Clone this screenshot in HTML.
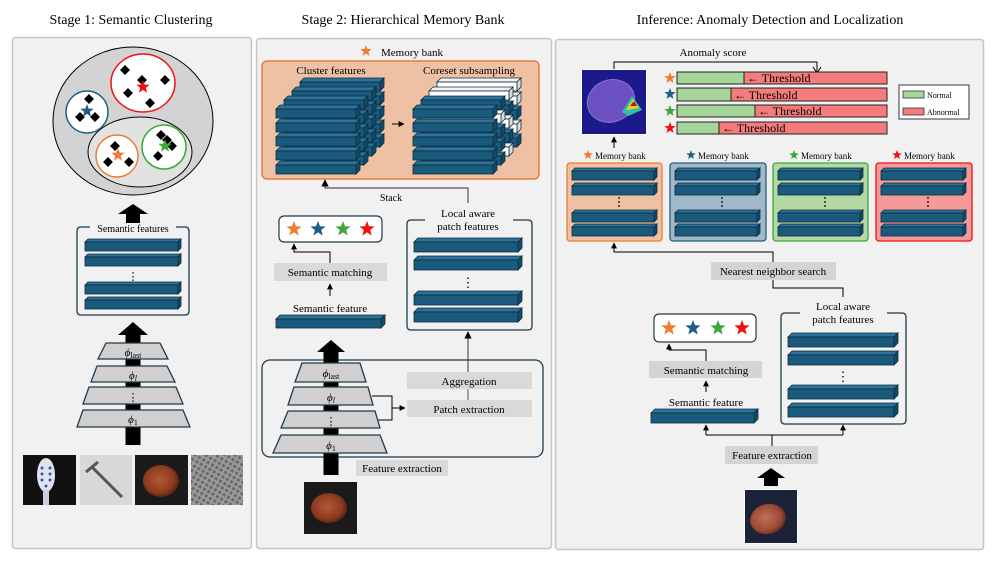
<!DOCTYPE html>
<html><head><meta charset="utf-8"><style>
html,body{margin:0;padding:0;background:#fff;}
svg{display:block;font-family:"Liberation Serif",serif;}
</style></head><body>
<svg id="s" width="996" height="561" viewBox="0 0 996 561" xmlns="http://www.w3.org/2000/svg">
<defs>
<radialGradient id="nut" cx="0.45" cy="0.45" r="0.6"><stop offset="0" stop-color="#b45a35"/><stop offset="0.7" stop-color="#8a3a1f"/><stop offset="1" stop-color="#4a1d10"/></radialGradient>
<radialGradient id="nut2" cx="0.45" cy="0.45" r="0.6"><stop offset="0" stop-color="#c0705a"/><stop offset="0.7" stop-color="#9a4a35"/><stop offset="1" stop-color="#5a2518"/></radialGradient>
<pattern id="grid" width="5" height="5" patternUnits="userSpaceOnUse" patternTransform="rotate(30)"><rect width="5" height="5" fill="#9a9a9a"/><rect width="3" height="3" fill="#6a6a6a"/></pattern>
<marker id="ar" viewBox="0 0 10 10" refX="9" refY="5" markerWidth="6" markerHeight="6" orient="auto"><path d="M0,0L10,5L0,10z" fill="#000"/></marker>
</defs>
<g font-size="14" text-anchor="middle" fill="#000">
<text x="131" y="24">Stage 1: Semantic Clustering</text>
<text x="403" y="24">Stage 2: Hierarchical Memory Bank</text>
<text x="770" y="24">Inference: Anomaly Detection and Localization</text>
</g>
<rect x="12.5" y="37.5" width="239" height="511" rx="3" fill="#f1f1f1" stroke="#c4c4c4" stroke-width="1.5"/>
<rect x="256.5" y="38.5" width="295" height="510" rx="3" fill="#f1f1f1" stroke="#c4c4c4" stroke-width="1.5"/>
<rect x="555.5" y="39.5" width="428" height="510" rx="3" fill="#f1f1f1" stroke="#c4c4c4" stroke-width="1.5"/>

<ellipse cx="133" cy="121" rx="80" ry="74" fill="#d3d3d3" stroke="#000" stroke-width="1"/>
<ellipse cx="140" cy="152" rx="52" ry="35" fill="#e2e2e2" stroke="#000" stroke-width="1"/>
<circle cx="87" cy="112" r="21" fill="#fff" stroke="#1f5f85" stroke-width="1.5"/>
<ellipse cx="143" cy="83" rx="32" ry="29" fill="#fff" stroke="#f01010" stroke-width="1.5"/>
<circle cx="117" cy="156" r="21" fill="#fff" stroke="#ed7d31" stroke-width="1.5"/>
<circle cx="164" cy="147" r="22" fill="#fff" stroke="#3aa83a" stroke-width="1.5"/>
<g id="p1"></g>

<path d="M90,227 H81 Q77,227 77,231 V311 Q77,315 81,315 H185 Q189,315 189,311 V231 Q189,227 185,227 H176" fill="none" stroke="#1f3a4a" stroke-width="1.3"/>
<text x="133" y="232" font-size="10" text-anchor="middle">Semantic features</text>
<text x="133" y="280" font-size="11" text-anchor="middle">⋮</text>

<text x="412" y="56" font-size="11" text-anchor="middle">Memory bank</text>
<rect x="262" y="61" width="277" height="118" rx="5" fill="#efc1a4" stroke="#e87d3e" stroke-width="1.5"/>
<text x="331" y="74" font-size="11" text-anchor="middle">Cluster features</text>
<text x="469" y="74" font-size="11" text-anchor="middle">Coreset subsampling</text>
<line x1="392" y1="124" x2="404" y2="124" stroke="#000" stroke-width="1" marker-end="url(#ar)"/>
<path d="M468,203 V188 H325 V180" fill="none" stroke="#555" stroke-width="1.2" marker-end="url(#ar)"/>
<text x="391" y="201" font-size="10" text-anchor="middle">Stack</text>
<rect x="279" y="216" width="103" height="26" rx="5" fill="#fff" stroke="#1f3a4a" stroke-width="1.2"/>
<path d="M330,263 V252 H294 V244" fill="none" stroke="#000" stroke-width="1" marker-end="url(#ar)"/>
<rect x="274" y="263" width="113" height="18" fill="#d9d9d9"/>
<text x="330" y="276" font-size="11" text-anchor="middle">Semantic matching</text>
<line x1="330" y1="296" x2="330" y2="284" stroke="#000" stroke-width="1" marker-end="url(#ar)"/>
<text x="330" y="312" font-size="11" text-anchor="middle">Semantic feature</text>
<path d="M425,220 H411 Q407,220 407,224 V326 Q407,330 411,330 H528 Q532,330 532,326 V224 Q532,220 528,220 H513" fill="none" stroke="#1f3a4a" stroke-width="1.3"/>
<text x="468" y="217" font-size="11" text-anchor="middle">Local aware</text>
<text x="468" y="230" font-size="11" text-anchor="middle">patch features</text>
<text x="468" y="287" font-size="13" text-anchor="middle">⋮</text>
<line x1="468" y1="372" x2="468" y2="332" stroke="#555" stroke-width="1.2" marker-end="url(#ar)"/>
<rect x="262" y="360" width="281" height="97" rx="8" fill="none" stroke="#1f3a4a" stroke-width="1.3"/>
<rect x="407" y="372" width="125" height="17" fill="#d9d9d9"/>
<text x="469" y="385" font-size="11" text-anchor="middle">Aggregation</text>
<line x1="468" y1="389" x2="468" y2="400" stroke="#555" stroke-width="1"/>
<rect x="407" y="400" width="125" height="17" fill="#d9d9d9"/>
<text x="469" y="413" font-size="11" text-anchor="middle">Patch extraction</text>
<path d="M372,396 H392 V420 H376 M392,408 H405" fill="none" stroke="#000" stroke-width="1" marker-end="url(#ar)"/>
<rect x="356" y="460" width="92" height="16" fill="#d9d9d9"/>
<text x="402" y="472" font-size="11" text-anchor="middle">Feature extraction</text>

<text x="713" y="56" font-size="11" text-anchor="middle">Anomaly score</text>
<path d="M614,70 V62 H817 V72" fill="none" stroke="#000" stroke-width="1"/>
<path d="M813,67 L817,73 L821,67" fill="none" stroke="#000" stroke-width="1"/>
<rect x="581" y="69" width="66" height="66" fill="#fff"/>
<rect x="582" y="70" width="64" height="64" fill="#1c1a8a"/>
<ellipse cx="611" cy="101" rx="24" ry="21" fill="#6a50c0" transform="rotate(-20 611 101)"/>
<ellipse cx="611" cy="101" rx="24" ry="21" fill="none" stroke="#8a70d8" stroke-width="1" transform="rotate(-20 611 101)"/>
<polygon points="622,112 632,96 642,110 628,116" fill="#30c0a0"/>
<polygon points="626,110 633,99 639,108" fill="#f0d020"/>
<polygon points="630,106 634,101 637,106" fill="#c01010"/>
<line x1="614" y1="148" x2="614" y2="137" stroke="#000" stroke-width="1" marker-end="url(#ar)"/>
<g font-size="12">
<rect x="677" y="72" width="210" height="12" fill="#f47c7c" stroke="#222" stroke-width="1"/><rect x="677" y="72" width="67" height="12" fill="#a6d69a" stroke="#222" stroke-width="1"/><text x="747" y="82">← Threshold</text>
<rect x="677" y="88" width="210" height="13" fill="#f47c7c" stroke="#222" stroke-width="1"/><rect x="677" y="88" width="54" height="13" fill="#a6d69a" stroke="#222" stroke-width="1"/><text x="734" y="99">← Threshold</text>
<rect x="677" y="105" width="210" height="12" fill="#f47c7c" stroke="#222" stroke-width="1"/><rect x="677" y="105" width="78" height="12" fill="#a6d69a" stroke="#222" stroke-width="1"/><text x="758" y="115">← Threshold</text>
<rect x="677" y="122" width="210" height="12" fill="#f47c7c" stroke="#222" stroke-width="1"/><rect x="677" y="122" width="42" height="12" fill="#a6d69a" stroke="#222" stroke-width="1"/><text x="722" y="132">← Threshold</text>
</g>
<rect x="899" y="85" width="70" height="34" fill="#fff" stroke="#2a3a48" stroke-width="1"/>
<rect x="903" y="91" width="21" height="7" fill="#a6d69a" stroke="#333" stroke-width="0.8"/>
<rect x="903" y="108" width="21" height="7" fill="#f47c7c" stroke="#333" stroke-width="0.8"/>
<text x="927" y="98" font-size="8">Normal</text>
<text x="927" y="115" font-size="8">Abnormal</text>
<g font-size="9">
<text x="595" y="159">Memory bank</text>
<text x="698" y="159">Memory bank</text>
<text x="801" y="159">Memory bank</text>
<text x="904" y="159">Memory bank</text>
</g>
<rect x="567" y="163" width="95" height="78" rx="3" fill="#efc1a4" stroke="#ed7d31" stroke-width="1.3"/>
<rect x="670" y="163" width="96" height="78" rx="3" fill="#9fb9c9" stroke="#1f5f85" stroke-width="1.3"/>
<rect x="773" y="163" width="95" height="78" rx="3" fill="#b5d9a5" stroke="#3aa83a" stroke-width="1.3"/>
<rect x="876" y="163" width="96" height="78" rx="3" fill="#f49a9a" stroke="#f01010" stroke-width="1.3"/>
<path d="M773,262 V252 H614 V243" fill="none" stroke="#000" stroke-width="1" marker-end="url(#ar)"/>
<rect x="711" y="262" width="125" height="18" fill="#d4d4d4"/>
<text x="773" y="275" font-size="11" text-anchor="middle">Nearest neighbor search</text>
<path d="M773,280 V288 H843 V297" fill="none" stroke="#000" stroke-width="1"/>
<path d="M800,313 H785 Q781,313 781,317 V420 Q781,424 785,424 H902 Q906,424 906,420 V317 Q906,313 902,313 H887" fill="none" stroke="#1f3a4a" stroke-width="1.3"/>
<text x="843" y="310" font-size="11" text-anchor="middle">Local aware</text>
<text x="843" y="323" font-size="11" text-anchor="middle">patch features</text>
<text x="843" y="381" font-size="13" text-anchor="middle">⋮</text>
<rect x="654" y="314" width="102" height="28" rx="5" fill="#fff" stroke="#1f3a4a" stroke-width="1.2"/>
<path d="M706,361 V350 H669 V344" fill="none" stroke="#000" stroke-width="1" marker-end="url(#ar)"/>
<rect x="649" y="361" width="113" height="17" fill="#d4d4d4"/>
<text x="706" y="374" font-size="11" text-anchor="middle">Semantic matching</text>
<line x1="706" y1="392" x2="706" y2="381" stroke="#000" stroke-width="1" marker-end="url(#ar)"/>
<text x="706" y="406" font-size="11" text-anchor="middle">Semantic feature</text>
<path d="M772,446 V435 M706,435 H843" fill="none" stroke="#000" stroke-width="1"/>
<line x1="706" y1="435" x2="706" y2="425" stroke="#000" stroke-width="1" marker-end="url(#ar)"/>
<line x1="843" y1="435" x2="843" y2="425" stroke="#000" stroke-width="1" marker-end="url(#ar)"/>
<rect x="725" y="446" width="93" height="18" fill="#d4d4d4"/>
<text x="772" y="459" font-size="11" text-anchor="middle">Feature extraction</text>
<polygon points="757,478 771,468 785,478 778,478 778,486 764,486 764,478" fill="#000"/>
<rect x="744" y="489" width="54" height="55" fill="#fff"/>
<rect x="745" y="490" width="52" height="53" fill="#1c2238"/>
<ellipse cx="768" cy="519" rx="18" ry="15" fill="url(#nut2)" transform="rotate(-15 768 519)"/>

<rect x="23" y="455" width="53" height="50" fill="#111"/>
<ellipse cx="46" cy="475" rx="9" ry="17" fill="#dde4ee"/>
<rect x="43" y="490" width="6" height="15" fill="#ccd"/>
<g fill="#3a55a0"><circle cx="42" cy="468" r="1.5"/><circle cx="50" cy="468" r="1.5"/><circle cx="42" cy="474" r="1.5"/><circle cx="50" cy="474" r="1.5"/><circle cx="42" cy="480" r="1.5"/><circle cx="50" cy="480" r="1.5"/><circle cx="46" cy="486" r="1.5"/></g>
<rect x="80" y="455" width="52" height="50" fill="#d8d8d8"/>
<line x1="92" y1="467" x2="122" y2="497" stroke="#555" stroke-width="3"/>
<line x1="86" y1="472" x2="98" y2="462" stroke="#555" stroke-width="3"/>
<rect x="135" y="455" width="53" height="50" fill="#1a1a1a"/>
<ellipse cx="161" cy="481" rx="18" ry="16" fill="url(#nut)"/>
<rect x="191" y="455" width="52" height="50" fill="url(#grid)"/>
<rect x="304" y="482" width="53" height="52" fill="#1a1a1a"/>
<ellipse cx="329" cy="508" rx="18" ry="15" fill="url(#nut)"/>

<g id="dyn"></g>
<g font-size="11" text-anchor="middle" font-style="italic">
<text x="133" y="356">ϕ<tspan font-size="8" font-style="normal" dy="2">last</tspan></text>
<text x="133" y="379">ϕ<tspan font-size="8" dy="2">l</tspan></text>
<text x="133" y="401" font-style="normal">⋮</text>
<text x="133" y="423">ϕ<tspan font-size="8" font-style="normal" dy="2">1</tspan></text>
<text x="331" y="377">ϕ<tspan font-size="8" font-style="normal" dy="2">last</tspan></text>
<text x="331" y="401">ϕ<tspan font-size="8" dy="2">l</tspan></text>
<text x="331" y="425" font-style="normal">⋮</text>
<text x="331" y="449">ϕ<tspan font-size="8" font-style="normal" dy="2">1</tspan></text>
</g>
</svg>
<script>
(function(){
var NS="http://www.w3.org/2000/svg";
var dyn=document.getElementById("dyn"), p1=document.getElementById("p1");
function el(par,t,a){var e=document.createElementNS(NS,t);for(var k in a)e.setAttribute(k,a[k]);par.appendChild(e);return e;}
function bar(par,x,y,w,h,d,white){
 var f=white?"#ffffff":"#1a5a7d", tp=white?"#f4f4f4":"#2c7399", sd=white?"#dddddd":"#134a68";
 var s="#0d2c3e";
 el(par,"polygon",{points:[x,y+d,x+d,y,x+w+d,y,x+w,y+d].join(" "),fill:tp,stroke:s,"stroke-width":0.8});
 el(par,"polygon",{points:[x+w,y+d,x+w+d,y,x+w+d,y+h,x+w,y+h+d].join(" "),fill:sd,stroke:s,"stroke-width":0.8});
 el(par,"rect",{x:x,y:y+d,width:w,height:h,fill:f,stroke:s,"stroke-width":0.8});
}
function star(par,cx,cy,r,c){
 var p=[];for(var i=0;i<10;i++){var a=-Math.PI/2+i*Math.PI/5,rr=i%2?r*0.42:r;p.push((cx+rr*Math.cos(a)).toFixed(1)+","+(cy+rr*Math.sin(a)).toFixed(1));}
 el(par,"polygon",{points:p.join(" "),fill:c});
}
function dia(par,x,y){el(par,"rect",{x:x-3.5,y:y-3.5,width:7,height:7,fill:"#000",transform:"rotate(45 "+x+" "+y+")"});}
function trap(par,y1,y2,t1,t2,b1,b2){el(par,"polygon",{points:[t1,y1,t2,y1,b2,y2,b1,y2].join(" "),fill:"#d0d0d0",stroke:"#1f3a4a","stroke-width":1.3});}
function bigArrow(par,cx,hy,hb,end,hw,sw){el(par,"polygon",{points:[cx-hw,hb,cx,hy,cx+hw,hb,cx+sw,hb,cx+sw,end,cx-sw,end,cx-sw,hb].join(" "),fill:"#000"});}
var O="#ed7d31",B="#1f5f85",G="#3aa83a",R="#f01010";
[[89,99],[80,117],[95,117],[125,70],[165,80],[128,93],[150,103],[142,80],[115,146],[108,162],[129,162],[161,135],[172,146],[158,156],[167,140]].forEach(function(p){dia(p1,p[0],p[1]);});
star(p1,87,111,7,B);star(p1,143,87,7,R);star(p1,118,155,7,O);star(p1,165,146,7,G);
bigArrow(dyn,133,204,214,223,15,7);
bigArrow(dyn,133,322,335,445,15,7.5);
trap(dyn,343,359,106,160,98,168);trap(dyn,366,382,97,167,91,175);trap(dyn,387,404,89,176,83,183);trap(dyn,410,427,83,183,77,190);
[239,254,282,297].forEach(function(y){bar(dyn,85,y,93,9,3,false);});
for(var k=0;k<4;k++)for(var j=0;j<5;j++){bar(dyn,300-8*k,82+9*k+14*j-4,80,9,4,false);}
var wh=[[0,1],[0,3],[1,0],[1,2],[1,4],[2,1],[3,0],[3,2],[3,3],[0,0]];
function isW(k,j){for(var i=0;i<wh.length;i++)if(wh[i][0]==k&&wh[i][1]==j)return true;return false;}
for(var k=0;k<4;k++)for(var j=0;j<5;j++){bar(dyn,437-8*k,82+9*k+14*j-4,80,9,4,(k<3)&&isW(k,j));}
star(dyn,366,51,6,O);
[294,318,343,367].forEach(function(x,i){star(dyn,x,229,8,[O,B,G,R][i]);});
bar(dyn,276,315,105,9,4,false);
[238,256,291,308].forEach(function(y){bar(dyn,414,y,104,10,4,false);});
bigArrow(dyn,331,340,352,475,14,7.5);
trap(dyn,363,382,302,360,295,366);trap(dyn,387,405,294,368,288,373);trap(dyn,411,428,288,375,281,380);trap(dyn,435,453,281,380,273,387);
[[670,78,O],[670,94,B],[670,111,G],[670,128,R]].forEach(function(s){star(dyn,s[0],s[1],6,s[2]);});
[[588,O],[691,B],[794,G],[897,R]].forEach(function(s){star(dyn,s[0],155,5,s[1]);});
[572,675,778,881].forEach(function(x){[168,183,210,224].forEach(function(y){bar(dyn,x,y,82,9,3,false);});});
[198,202,206].forEach(function(y){[619,722,825,928].forEach(function(x){el(dyn,"circle",{cx:x,cy:y,r:0.9,fill:"#000"});});});
[669,693,718,742].forEach(function(x,i){star(dyn,x,328,8,[O,B,G,R][i]);});
bar(dyn,651,409,103,10,4,false);
[333,351,385,403].forEach(function(y){bar(dyn,788,y,106,10,4,false);});
})();
</script>
</body></html>
